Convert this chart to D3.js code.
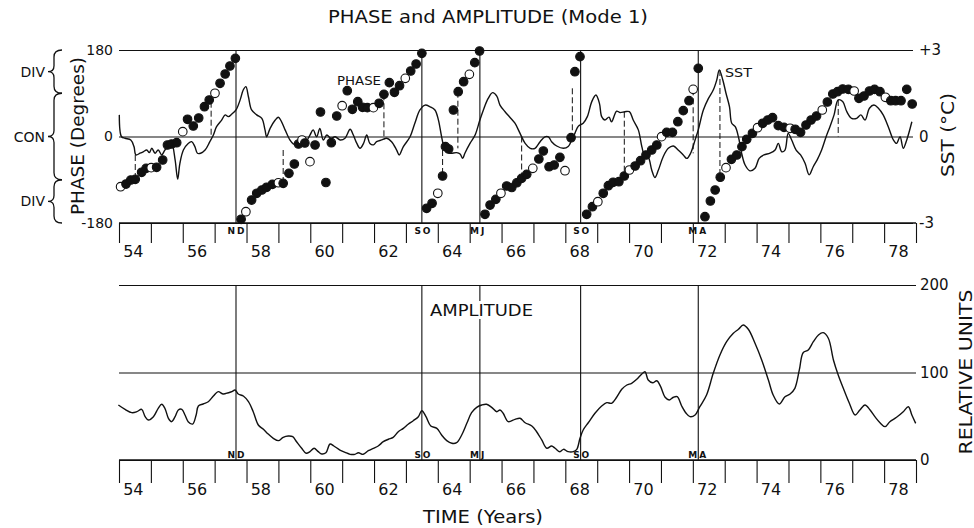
<!DOCTYPE html>
<html lang="en">
<head>
<meta charset="UTF-8">
<title>Phase and Amplitude (Mode 1)</title>
<script src="https://cdn.jsdelivr.net/npm/d3@7"></script>
<style>
  body{margin:0;background:#fff}
  #mainsvg{display:block;font-family:"DejaVu Sans",sans-serif}
</style>
</head>
<body>
<svg width="974" height="528" id="mainsvg"></svg>
<script>
// year boundaries get a tick, every 2nd year gets a label in the middle of the year
const yearTicks = d3.range(1954, 1980)
const yearLabels = ["54","56","58","60","62","64","66","68","70","72","74","76","78"]

// solid event lines and their month tags
const eventYears = [1957.67, 1963.5, 1965.32, 1968.48, 1972.17]
const eventTags = ["ND", "SO", "MJ", "SO", "MA"]

// phase (degrees), bimonthly; third field 1 = open circle
const phaseDots = [
  [1954.05,-104.5,1],[1954.22,-98.9,0],[1954.37,-90.5,0],[1954.51,-89.1,0],[1954.71,-74.5,0],[1954.85,-66.2,0],
  [1955.01,-64.9,1],[1955.18,-64.1,0],[1955.37,-48.9,0],[1955.52,-17.7,0],[1955.65,-15.6,0],[1955.81,-12.9,0],
  [1956.0,10,1],[1956.15,35.8,0],[1956.33,21.8,0],[1956.5,38.5,0],[1956.68,62,0],[1956.83,76,0],
  [1957.01,89.9,1],[1957.17,110.7,0],[1957.33,130.1,0],[1957.48,146.7,0],[1957.65,162.7,0],[1957.83,-172.3,0],
  [1957.98,-156.5,1],[1958.16,-132.2,0],[1958.32,-118.2,0],[1958.48,-111.3,0],[1958.63,-105.7,0],[1958.81,-99.5,0],
  [1959.0,-96.2,1],[1959.15,-97.4,0],[1959.33,-76.6,0],[1959.5,-57.2,0],[1959.63,-15.6,0],[1959.74,-7.3,1],
  [1959.83,-13.5,0],[1959.99,-52.4,1],[1960.15,-17.7,0],[1960.32,51,0],[1960.49,-95.7,0],[1960.66,-12.9,0],
  [1960.83,42.7,0],[1961.0,64.1,1],[1961.16,95.3,0],[1961.32,56.6,0],[1961.49,72.4,0],[1961.64,60.8,0],
  [1961.79,60,0],[1961.98,60,1],[1962.16,69.1,0],[1962.31,87.8,0],[1962.48,112,0],[1962.64,92,0],
  [1962.8,105.7,0],[1962.98,121.1,1],[1963.15,136.3,0],[1963.32,150.9,0],[1963.5,173.1,0],[1963.65,-149.4,0],
  [1963.82,-139,0],[1964.0,-118.2,1],[1964.15,-82.2,0],[1964.24,-21.2,0],[1964.34,-26,0],[1964.49,55.1,0],
  [1964.64,93.2,0],[1964.81,114,0],[1964.99,129.4,1],[1965.16,153.6,0],[1965.31,177.9,0],[1965.48,-161.9,0],
  [1965.64,-142.6,0],[1965.82,-130.7,0],[1965.98,-118.2,1],[1966.16,-103,0],[1966.32,-106.1,0],[1966.48,-96.2,0],
  [1966.63,-87,0],[1966.79,-78.7,0],[1966.98,-66.2,1],[1967.17,-46.8,0],[1967.31,-30.2,0],[1967.49,-62.9,0],
  [1967.65,-59.3,0],[1967.83,-43.3,0],[1967.99,-71.2,1],[1968.18,-2.5,0],[1968.3,134.8,0],[1968.46,166.1,0],
  [1968.67,-161.9,0],[1968.85,-146.1,0],[1969.02,-135.7,1],[1969.19,-118.2,0],[1969.35,-102.4,0],[1969.5,-95.3,0],
  [1969.68,-94.1,0],[1969.85,-82.2,0],[1970.01,-69.7,1],[1970.19,-61.4,0],[1970.36,-50.4,0],[1970.53,-38.5,0],
  [1970.71,-28.1,0],[1970.87,-17.7,0],[1971.02,-0.4,1],[1971.18,8.7,0],[1971.36,8.7,0],[1971.53,30.8,0],
  [1971.7,53.7,0],[1971.88,74.5,0],[1972.01,98.2,1],[1972.17,141.9,0],[1972.38,-166.9,0],[1972.55,-134.2,0],
  [1972.7,-111.3,0],[1972.86,-84.7,0],[1973.04,-64.9,1],[1973.21,-47.5,0],[1973.38,-38.5,0],[1973.54,-21.2,0],
  [1973.69,-5.8,0],[1973.87,6.7,0],[1974.03,18.3,1],[1974.19,27.5,0],[1974.35,34.3,0],[1974.5,39.1,0],
  [1974.68,22.5,0],[1974.86,19.1,0],[1975.05,17.1,1],[1975.21,15,0],[1975.38,8.7,0],[1975.55,23.9,0],
  [1975.71,34.3,0],[1975.88,42.7,0],[1976.06,55.1,1],[1976.22,71.8,0],[1976.39,88.4,0],[1976.54,93.2,0],
  [1976.7,98.8,0],[1976.88,98.2,0],[1977.06,94.7,1],[1977.21,79.5,0],[1977.37,84.3,0],[1977.54,94.7,0],
  [1977.7,98.2,0],[1977.87,93.2,0],[1978.04,81.6,1],[1978.21,74.5,0],[1978.36,74.5,0],[1978.53,74.5,0],
  [1978.71,98.2,0],[1978.88,67.6,0]
]

// SST anomaly (deg C)
const sst = [
  [1954.01,0.75],[1954.08,-0.01],[1954.19,-0.06],[1954.37,-0.12],[1954.47,-0.35],[1954.53,-0.64],[1954.66,-0.58],
  [1954.76,-0.53],[1954.87,-0.47],[1954.95,-0.56],[1955.03,-0.41],[1955.13,-0.58],[1955.23,-0.47],[1955.34,-0.64],
  [1955.44,-0.47],[1955.55,-0.35],[1955.65,-0.24],[1955.76,-0.81],[1955.84,-1.48],[1955.91,-0.93],[1956.02,-0.47],
  [1956.17,-0.24],[1956.28,-0.18],[1956.38,-0.35],[1956.46,-0.58],[1956.56,-0.58],[1956.7,-0.47],[1956.85,-0.18],
  [1956.96,0.05],[1957.06,0.34],[1957.22,0.57],[1957.33,0.75],[1957.43,0.69],[1957.54,0.78],[1957.67,0.92],
  [1957.8,1.27],[1957.9,1.62],[1957.98,1.73],[1958.06,1.38],[1958.16,0.92],[1958.32,0.75],[1958.48,0.63],
  [1958.58,0.23],[1958.63,-0.01],[1958.74,0.28],[1958.9,0.57],[1959.0,0.67],[1959.1,0.51],[1959.21,0.23],
  [1959.36,-0.12],[1959.47,-0.26],[1959.57,-0.24],[1959.68,-0.12],[1959.78,-0.01],[1959.89,-0.12],[1959.99,0.05],
  [1960.09,0.23],[1960.2,-0.01],[1960.3,0.28],[1960.41,-0.12],[1960.52,0.05],[1960.64,-0.06],[1960.78,-0.01],
  [1960.94,-0.12],[1961.09,-0.06],[1961.25,0.25],[1961.35,0.05],[1961.46,-0.24],[1961.56,-0.41],[1961.67,-0.24],
  [1961.77,0.05],[1961.87,-0.24],[1961.98,-0.29],[1962.08,-0.18],[1962.24,-0.12],[1962.4,-0.06],[1962.55,-0.18],
  [1962.71,-0.47],[1962.79,-0.64],[1962.92,-0.35],[1963.13,-0.01],[1963.28,0.46],[1963.44,0.92],[1963.6,1.09],
  [1963.76,1.03],[1963.91,0.92],[1964.02,0.57],[1964.12,-0.01],[1964.23,-0.47],[1964.38,-0.58],[1964.59,-0.56],
  [1964.7,-0.61],[1964.78,-0.76],[1964.85,-0.58],[1965.01,-0.24],[1965.17,0.05],[1965.32,0.57],[1965.43,0.92],
  [1965.58,1.32],[1965.72,1.52],[1965.85,1.4],[1965.95,1.09],[1966.11,0.86],[1966.26,0.67],[1966.42,0.46],
  [1966.58,0.11],[1966.74,-0.24],[1966.9,-0.41],[1967.05,-0.41],[1967.21,-0.18],[1967.36,-0.01],[1967.47,-0.01],
  [1967.57,-0.18],[1967.73,-0.33],[1967.94,-0.41],[1968.09,-0.35],[1968.2,-0.12],[1968.3,0.11],[1968.41,0.36],
  [1968.56,0.46],[1968.69,0.69],[1968.83,1.21],[1968.96,1.44],[1969.07,1.15],[1969.14,0.69],[1969.24,0.57],
  [1969.37,0.67],[1969.45,0.51],[1969.61,0.88],[1969.72,0.83],[1969.87,0.86],[1970.01,0.86],[1970.13,0.57],
  [1970.29,0.23],[1970.4,-0.35],[1970.5,-0.7],[1970.6,-0.72],[1970.71,-1.16],[1970.81,-1.42],[1970.92,-1.16],
  [1971.07,-0.7],[1971.23,-0.41],[1971.39,-0.33],[1971.54,-0.47],[1971.7,-0.64],[1971.81,-0.76],[1971.93,-0.58],
  [1972.07,-0.12],[1972.17,0.23],[1972.33,0.92],[1972.49,1.32],[1972.64,1.61],[1972.75,1.96],[1972.83,2.31],
  [1972.94,1.96],[1973.04,1.5],[1973.15,1.03],[1973.22,0.46],[1973.33,0.34],[1973.43,-0.01],[1973.53,-0.58],
  [1973.64,-0.99],[1973.79,-1.19],[1973.95,-1.1],[1974.08,-0.76],[1974.23,-0.64],[1974.42,-0.58],[1974.58,-0.47],
  [1974.68,-0.24],[1974.79,-0.53],[1974.89,-0.47],[1974.99,0.11],[1975.1,-0.12],[1975.24,-0.47],[1975.38,-0.64],
  [1975.52,-0.93],[1975.65,-1.33],[1975.78,-1.04],[1975.9,-0.81],[1976.04,-0.47],[1976.18,-0.01],[1976.3,0.34],
  [1976.43,0.75],[1976.56,1.27],[1976.7,1.21],[1976.83,0.86],[1976.98,0.63],[1977.14,0.63],[1977.27,0.75],
  [1977.4,0.57],[1977.54,0.98],[1977.68,1.09],[1977.82,0.98],[1977.97,0.75],[1978.13,0.34],[1978.29,-0.12],
  [1978.39,-0.24],[1978.5,-0.01],[1978.6,-0.41],[1978.71,-0.12],[1978.87,0.51]
]

// dashed droplines: [year, from deg, to deg]
const droplines = [
  [1954.51,-38.5,-89.1],[1956.89,72.4,0],[1959.15,-28.1,-97.4],[1962.31,87.8,-7.3],
  [1964.15,-28.1,-82.2],[1964.63,93.2,-24.6],[1966.63,0,-87],[1968.22,100.3,0],
  [1969.85,51.6,-82.2],[1972.01,98.2,-35],[1972.85,138.4,-83.7],[1976.56,76,0]
]

// amplitude, relative units
const amplitude = [
  [1953.98,62.9],[1954.19,57.9],[1954.4,54.1],[1954.56,55.2],[1954.71,57.9],[1954.82,49.5],[1954.92,45.7],
  [1955.08,49.5],[1955.23,59.1],[1955.34,63.7],[1955.44,59.1],[1955.55,47.7],[1955.65,43.8],[1955.76,49.5],
  [1955.86,57.1],[1955.97,57.9],[1956.07,51.4],[1956.17,43.8],[1956.31,41.1],[1956.42,51.4],[1956.49,61.7],
  [1956.64,64],[1956.8,66.6],[1956.96,73.1],[1957.11,78.1],[1957.27,75.4],[1957.43,76.9],[1957.54,78.1],
  [1957.64,80],[1957.74,75.4],[1957.9,73.1],[1958.06,66.6],[1958.21,55.2],[1958.37,40],[1958.53,35.1],
  [1958.68,29.7],[1958.84,24.8],[1959.0,22.1],[1959.15,25.9],[1959.31,27.4],[1959.45,26.6],[1959.57,20.9],
  [1959.73,13.4],[1959.87,7.7],[1959.99,9.5],[1960.12,13.4],[1960.25,9.5],[1960.36,6.9],[1960.49,8.3],
  [1960.62,18.3],[1960.74,16],[1960.93,11.4],[1961.09,8.8],[1961.25,6.5],[1961.4,6.5],[1961.51,8.3],
  [1961.66,6.5],[1961.82,10.6],[1961.98,13.4],[1962.13,16],[1962.29,20.9],[1962.45,23.7],[1962.6,25.9],
  [1962.76,32.3],[1962.92,36.2],[1963.07,40.8],[1963.23,44.9],[1963.39,49.5],[1963.5,56.3],[1963.63,49.5],
  [1963.78,38.9],[1963.97,36.2],[1964.12,28.6],[1964.28,22.1],[1964.44,19.1],[1964.59,19.8],[1964.75,28.6],
  [1964.91,41.9],[1965.06,54.1],[1965.22,60.2],[1965.38,62.9],[1965.53,63.7],[1965.69,60.2],[1965.85,55.2],
  [1965.95,57.1],[1966.05,53.4],[1966.21,43.8],[1966.42,46.5],[1966.58,47.7],[1966.74,42.6],[1966.95,38.9],
  [1967.1,32.3],[1967.26,22.9],[1967.42,13.4],[1967.57,16],[1967.68,13.4],[1967.83,9.5],[1967.94,12.2],
  [1968.09,9.5],[1968.25,9.5],[1968.36,12.2],[1968.46,24.8],[1968.56,34.3],[1968.72,42.6],[1968.93,53.4],
  [1969.14,61.7],[1969.3,65.5],[1969.45,64.8],[1969.61,71.7],[1969.77,80.8],[1969.93,85.7],[1970.08,87.7],
  [1970.24,92.2],[1970.4,98.3],[1970.5,100.9],[1970.6,91.4],[1970.74,88.3],[1970.87,90.6],[1970.99,83.8],
  [1971.13,71.7],[1971.26,68.6],[1971.39,71.7],[1971.51,72.3],[1971.65,61.7],[1971.79,53.4],[1971.91,49.5],
  [1972.07,51.4],[1972.22,60.9],[1972.43,74.3],[1972.64,99.1],[1972.85,120],[1973.06,135.2],[1973.27,144.8],
  [1973.43,149.4],[1973.58,154.3],[1973.74,149.4],[1973.95,133.4],[1974.16,114.3],[1974.37,91.4],[1974.52,74.3],
  [1974.71,64],[1974.89,72.3],[1975.05,75.4],[1975.2,81.9],[1975.34,102.9],[1975.46,122.6],[1975.62,125.7],
  [1975.78,135.2],[1975.94,142.9],[1976.09,145.5],[1976.25,139.1],[1976.41,114.3],[1976.56,97.1],[1976.72,81.9],
  [1976.91,64.8],[1977.09,51.4],[1977.24,57.1],[1977.4,62.9],[1977.56,57.1],[1977.71,49.5],[1977.87,42.6],
  [1978.03,38.1],[1978.18,43.8],[1978.39,48.8],[1978.6,55.2],[1978.76,60.9],[1978.87,51.4],[1978.99,41.9]
]

// phase regimes marked by braces on the left
const braceRanges = [[90,180],[-90,90],[-180,-90]]
const braceLabels = ["DIV","CON","DIV"]

const svg = d3.select('#mainsvg')
const left = 119, right = 916

const x = d3.scaleLinear().domain([1954, 1979]).range([left, right])
const yPhase = d3.scaleLinear().domain([-180, 180]).range([223, 50])
const ySst = d3.scaleLinear().domain([-3, 3]).range([223, 50])
const yAmp = d3.scaleLinear().domain([0, 200]).range([460, 285])

const ink = "#111"

// ---------- titles
svg.append("text").attr("x", 488).attr("y", 17)
  .attr("text-anchor", "middle").attr("dominant-baseline", "central")
  .attr("font-size", 17).attr("textLength", 320).attr("lengthAdjust", "spacingAndGlyphs").attr("fill", ink)
  .text("PHASE and AMPLITUDE (Mode 1)")

svg.append("text").attr("x", 483).attr("y", 517)
  .attr("text-anchor", "middle").attr("dominant-baseline", "central")
  .attr("font-size", 17).attr("textLength", 120).attr("lengthAdjust", "spacingAndGlyphs").attr("fill", ink)
  .text("TIME (Years)")

function vtext(cx, cy, len, size, s) {
  svg.append("text")
    .attr("transform", `translate(${cx},${cy}) rotate(-90)`)
    .attr("text-anchor", "middle").attr("dominant-baseline", "central")
    .attr("font-size", size).attr("textLength", len).attr("lengthAdjust", "spacingAndGlyphs").attr("fill", ink)
    .text(s)
}
vtext(77, 136, 158, 18, "PHASE (Degrees)")
vtext(947, 135, 84, 18, "SST (°C)")
vtext(965, 372, 165, 18, "RELATIVE UNITS")

// ---------- top panel
const topG = svg.append("g")

// horizontal rules + right SST labels
const sstAxis = d3.axisRight(ySst).tickValues([-3, 0, 3]).tickSize(right - left - 3).tickPadding(6)
  .tickFormat(d => d > 0 ? "+" + d : d < 0 ? "-" + (-d) : "0")
topG.append("g").attr("transform", `translate(${left},0)`).call(sstAxis)
  .call(g => g.select(".domain").remove())
  .call(g => g.selectAll("line").attr("stroke", ink).attr("stroke-width", 1.1))
  .call(g => g.selectAll("text").attr("font-size", 15).attr("fill", ink).attr("font-family", "DejaVu Sans"))

const phaseAxis = d3.axisLeft(yPhase).tickValues([-180, 0, 180]).tickSize(0).tickPadding(6)
  .tickFormat(d => d < 0 ? "-" + (-d) : String(d))
topG.append("g").attr("transform", `translate(${left},0)`).call(phaseAxis)
  .call(g => g.select(".domain").remove())
  .call(g => g.selectAll("text").attr("font-size", 14).attr("fill", ink).attr("font-family", "DejaVu Sans"))

function timeAxis(g, y0, tick, labelY) {
  g.append("g").attr("transform", `translate(0,${y0})`)
    .call(d3.axisBottom(x).tickValues(yearTicks).tickSize(tick).tickFormat(""))
    .call(a => a.select(".domain").attr("stroke", ink).attr("stroke-width", 1.3).attr("d", `M${left},0H${right}`))
    .call(a => a.selectAll("line").attr("stroke", ink).attr("stroke-width", 1.1))
  g.append("g").selectAll("text").data(yearLabels).join("text")
    .attr("x", d => x(1900 + +d + 0.45)).attr("y", labelY)
    .attr("text-anchor", "middle").attr("dominant-baseline", "central")
    .attr("font-size", 16).attr("fill", ink)
    .text(d => d)
}
timeAxis(topG, 223, 20, 251)

// event lines
topG.append("g").selectAll("line").data(eventYears).join("line")
  .attr("x1", d => x(d)).attr("x2", d => x(d))
  .attr("y1", yPhase(180)).attr("y2", yPhase(-180))
  .attr("stroke", ink).attr("stroke-width", 1.1)

function tags(g, yText) {
  const t = g.append("g").attr("font-size", 9).attr("font-weight", "bold").attr("fill", ink)
  eventYears.forEach((d, i) => {
    t.append("text").attr("x", x(d) - 1).attr("y", yText).attr("text-anchor", "end").text(eventTags[i][0])
    t.append("text").attr("x", x(d) + 1).attr("y", yText).attr("text-anchor", "start").text(eventTags[i][1])
  })
}
tags(topG, 234)

// droplines
topG.append("g").selectAll("line").data(droplines).join("line")
  .attr("x1", d => x(d[0])).attr("x2", d => x(d[0]))
  .attr("y1", d => yPhase(d[1])).attr("y2", d => yPhase(d[2]))
  .attr("stroke", ink).attr("stroke-width", 1).attr("stroke-dasharray", "6,3")

// SST curve
const sstLine = d3.line().x(d => x(d[0])).y(d => ySst(d[1])).curve(d3.curveCatmullRom)
topG.append("path").datum(sst).attr("d", sstLine)
  .attr("fill", "none").attr("stroke", ink).attr("stroke-width", 1.4)

// phase dots
topG.append("g").selectAll("circle").data(phaseDots).join("circle")
  .attr("cx", d => x(d[0])).attr("cy", d => yPhase(d[1])).attr("r", 4.3)
  .attr("fill", d => d[2] ? "#fff" : ink)
  .attr("stroke", ink).attr("stroke-width", 1.1)

topG.append("text").attr("x", 337).attr("y", 80).attr("dominant-baseline", "central")
  .attr("font-size", 13).attr("textLength", 44).attr("lengthAdjust", "spacingAndGlyphs").attr("fill", ink).text("PHASE")
topG.append("text").attr("x", 725).attr("y", 72).attr("dominant-baseline", "central")
  .attr("font-size", 13).attr("textLength", 27).attr("lengthAdjust", "spacingAndGlyphs").attr("fill", ink).text("SST")

// braces
const brace = svg.append("g")
braceRanges.forEach((r, i) => {
  const y0 = yPhase(r[1]), y1 = yPhase(r[0]), ym = (y0 + y1) / 2
  const xr = 62, xs = 54, xt = 48
  brace.append("path")
    .attr("d", `M${xr},${y0}Q${xs},${y0} ${xs},${y0 + 7}L${xs},${ym - 6}Q${xs},${ym} ${xt},${ym}` +
      `Q${xs},${ym} ${xs},${ym + 6}L${xs},${y1 - 7}Q${xs},${y1} ${xr},${y1}`)
    .attr("fill", "none").attr("stroke", ink).attr("stroke-width", 1.3)
  brace.append("text").attr("x", 45).attr("y", ym).attr("text-anchor", "end")
    .attr("dominant-baseline", "central").attr("font-size", 14).attr("fill", ink)
    .text(braceLabels[i])
})

// ---------- bottom panel
const botG = svg.append("g")

const ampAxis = d3.axisRight(yAmp).tickValues([0, 100, 200]).tickSize(right - left).tickPadding(4)
botG.append("g").attr("transform", `translate(${left},0)`).call(ampAxis)
  .call(g => g.select(".domain").remove())
  .call(g => g.selectAll("line").attr("stroke", ink).attr("stroke-width", 1.1))
  .call(g => g.selectAll("text").attr("font-size", 15).attr("fill", ink).attr("font-family", "DejaVu Sans"))

timeAxis(botG, 460, 23, 489)

botG.append("g").selectAll("line").data(eventYears).join("line")
  .attr("x1", d => x(d)).attr("x2", d => x(d))
  .attr("y1", yAmp(200)).attr("y2", yAmp(0))
  .attr("stroke", ink).attr("stroke-width", 1.1)
tags(botG, 458)

const ampLine = d3.line().x(d => x(d[0])).y(d => yAmp(d[1])).curve(d3.curveCatmullRom)
botG.append("path").datum(amplitude).attr("d", ampLine)
  .attr("fill", "none").attr("stroke", ink).attr("stroke-width", 1.4)

botG.append("rect").attr("x", 428).attr("y", 301).attr("width", 107).attr("height", 18).attr("fill", "#fff")
botG.append("text").attr("x", 430).attr("y", 310).attr("dominant-baseline", "central")
  .attr("font-size", 16).attr("textLength", 103).attr("lengthAdjust", "spacingAndGlyphs").attr("fill", ink).text("AMPLITUDE")
</script>
</body>
</html>
